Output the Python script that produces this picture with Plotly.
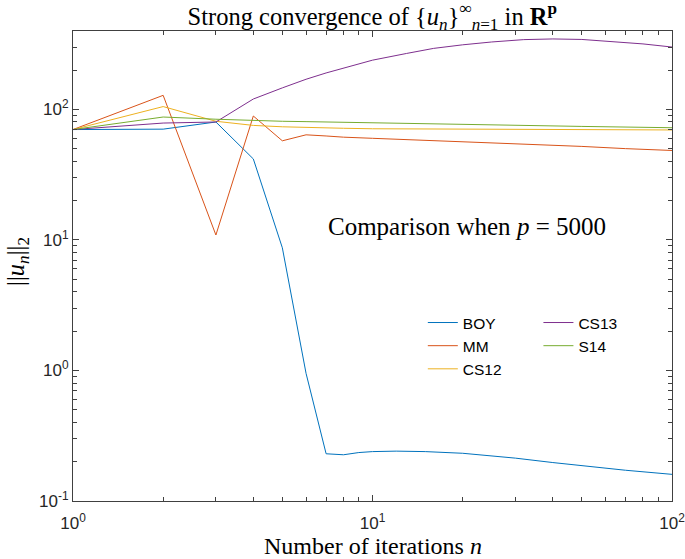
import plotly.graph_objects as go

# ---- data ----
n_boy = [1, 2, 3, 4, 5, 6, 7, 8, 9, 10, 12, 15, 20, 30, 40, 50, 70, 100]
boy = [70, 70.5, 80, 41.7, 8.7, 0.95, 0.23, 0.226, 0.235, 0.239, 0.241, 0.239,
       0.232, 0.213, 0.197, 0.186, 0.172, 0.16]

n_mm = [1, 2, 3, 4, 5, 6, 7, 8, 10, 15, 20, 30, 50, 70, 100]
mm = [70, 128, 10.9, 88.9, 57.4, 63.8, 62.5, 61.2, 60, 58, 56.5, 54.5, 52, 50, 48.4]

n_cs12 = [1, 2, 3, 4, 5, 6, 8, 10, 20, 50, 100]
cs12 = [70, 105, 81, 75.3, 73.5, 72.5, 71.6, 71, 70.3, 69.8, 69.5]

n_cs13 = [1, 2, 3, 4, 5, 6, 7, 8, 10, 13, 16, 20, 25, 32, 40, 50, 63, 80, 100]
cs13 = [70, 78.5, 80, 120, 146, 170, 190, 207, 238, 268, 293, 312, 328, 342,
        346, 343, 330, 317, 300]

n_s14 = [1, 2, 3, 4, 5, 6, 8, 10, 20, 50, 100]
s14 = [70, 87.3, 84, 82, 81, 80.5, 79.5, 78.5, 76.5, 74, 72.3]

series_names = ["BOY", "MM", "CS12", "CS13", "S14"]
colors = ["#0072BD", "#D95319", "#EDB120", "#7E2F8E", "#77AC30"]

x_tickvals = [1, 10, 100]
x_ticktext = ["10<sup>0</sup>", "10<sup>1</sup>", "10<sup>2</sup>"]
y_tickvals = [0.1, 1, 10, 100]
y_ticktext = ["10<sup>-1</sup>", "10<sup>0</sup>", "10<sup>1</sup>", "10<sup>2</sup>"]

xs = [n_boy, n_mm, n_cs12, n_cs13, n_s14]
ys = [boy, mm, cs12, cs13, s14]
legends = ["legend", "legend", "legend", "legend2", "legend2"]

fig = go.Figure()
for name, c, x, y, lg in zip(series_names, colors, xs, ys, legends):
    fig.add_trace(go.Scatter(x=x, y=y, mode="lines", name=name,
                             line=dict(color=c, width=1), legend=lg))

axis_common = dict(
    type="log", showgrid=False, zeroline=False, automargin=False,
    showline=True, linecolor="#404040", linewidth=1, mirror="ticks",
    ticks="inside", ticklen=6, tickwidth=1, tickcolor="#404040",
    minor=dict(ticks="inside", ticklen=4, tickwidth=1, tickcolor="#404040", dtick="D1"),
    tickfont=dict(family="Liberation Sans", size=17, color="#262626"),
    ticklabeloverflow="allow",
)

serif = "Liberation Serif"
fig.update_layout(
    width=685, height=559,
    margin=dict(l=73, r=13, t=31, b=58, autoexpand=False),
    paper_bgcolor="white", plot_bgcolor="white",
    xaxis=dict(range=[0, 2.00001], tickvals=x_tickvals, ticktext=x_ticktext,
               ticklabelstandoff=7, **axis_common),
    yaxis=dict(range=[-1, 2.6], tickvals=y_tickvals, ticktext=y_ticktext, **axis_common),
    title=dict(
        text="Strong convergence of {<i>u<sub>n</sub></i>}<sup>∞</sup><sub><i>n</i>=1</sub> in <b>R</b><sup><b>p</b></sup>",
        x=0.5435, xanchor="center", y=1 - 16 / 559, yanchor="middle", yref="container",
        font=dict(family=serif, size=24.5, color="black"),
    ),
    legend=dict(x=0.584, y=0.415, xanchor="left", yanchor="top",
                font=dict(family="Liberation Sans", size=15.5, color="black"),
                bgcolor="rgba(0,0,0,0)", tracegroupgap=0),
    legend2=dict(x=0.777, y=0.415, xanchor="left", yanchor="top",
                 font=dict(family="Liberation Sans", size=15.5, color="black"),
                 bgcolor="rgba(0,0,0,0)", tracegroupgap=0),
    showlegend=True,
)

fig.add_annotation(text="Number of iterations <i>n</i>", xref="paper", yref="paper",
                   x=0.5, y=(501 - 546) / 470, xanchor="center", yanchor="middle",
                   showarrow=False, font=dict(family=serif, size=24, color="black"))
fig.add_annotation(text="||<i>u<sub>n</sub></i>||<sub>2</sub>", xref="paper", yref="paper",
                   x=(17 - 73) / 599, y=(501 - 262) / 470, xanchor="center", yanchor="middle",
                   textangle=-90, showarrow=False,
                   font=dict(family=serif, size=24.5, color="black"))
fig.add_annotation(text="Comparison when <i>p</i> = 5000", xref="paper", yref="paper",
                   x=(467 - 73) / 599, y=(501 - 226) / 470, xanchor="center", yanchor="middle",
                   showarrow=False, font=dict(family=serif, size=25, color="black"))

fig.write_html("out.html", config={"displayModeBar": False},
               post_script="document.body.style.margin='0';document.body.style.overflow='hidden';")
